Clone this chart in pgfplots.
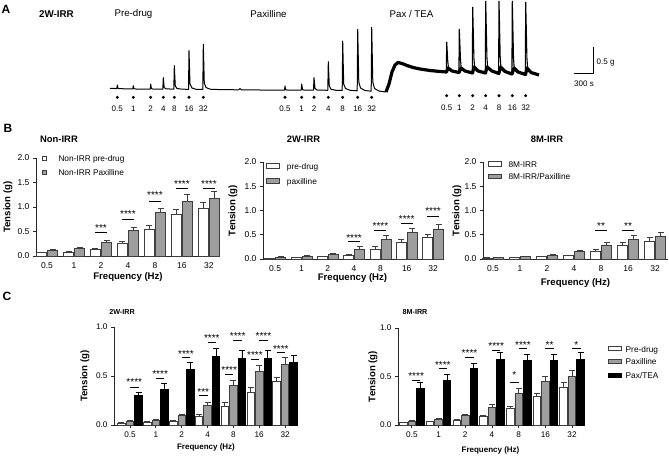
\documentclass[border=0pt]{standalone}
\usepackage{fontspec}
\setmainfont{Liberation Sans}
\usepackage{pgfplots}
\usepackage{pgfplotstable}
\pgfplotsset{compat=1.18}

\definecolor{barGrey}{HTML}{9E9E9E}
\definecolor{edge}{HTML}{3E3E3E}

\newcommand{\fLab}{\bfseries\fontsize{9.6}{11}\selectfont}
\newcommand{\fLabS}{\bfseries\fontsize{8}{10}\selectfont}
\newcommand{\fTick}{\fontsize{8.5}{10}\selectfont}
\newcommand{\fTickS}{\fontsize{8.2}{10}\selectfont}
\newcommand{\fLeg}{\fontsize{8.3}{10}\selectfont}
\newcommand{\fStar}{\fontsize{10}{10}\selectfont}

% ---------------- data ----------------
\pgfplotstableread{
x pre preE pax paxE
0 0.07 0.01 0.12 0.02
1 0.08 0.01 0.16 0.02
2 0.14 0.02 0.27 0.05
3 0.26 0.04 0.53 0.06
4 0.55 0.07 0.88 0.10
5 0.84 0.11 1.12 0.13
6 0.98 0.12 1.18 0.14
}\Bone
\pgfplotstableread{
x pre preE pax paxE
0 0.014 0.005 0.04 0.01
1 0.027 0.005 0.06 0.01
2 0.05 0.01 0.10 0.01
3 0.08 0.02 0.20 0.05
4 0.20 0.05 0.41 0.07
5 0.34 0.07 0.54 0.09
6 0.44 0.07 0.62 0.09
}\Btwo
\pgfplotstableread{
x pre preE pax paxE
0 0.02 0.005 0.03 0.01
1 0.03 0.005 0.05 0.01
2 0.045 0.01 0.08 0.01
3 0.07 0.01 0.16 0.02
4 0.16 0.04 0.29 0.06
5 0.29 0.05 0.40 0.08
6 0.37 0.07 0.46 0.08
}\Bthree
\pgfplotstableread{
x pre preE pax paxE tea teaE
0 0.017 0.005 0.034 0.01 0.30 0.03
1 0.027 0.005 0.05 0.01 0.36 0.06
2 0.04 0.01 0.096 0.015 0.57 0.07
3 0.085 0.02 0.20 0.03 0.70 0.08
4 0.19 0.04 0.40 0.06 0.68 0.08
5 0.335 0.05 0.546 0.065 0.68 0.08
6 0.44 0.05 0.62 0.07 0.64 0.07
}\Cone
\pgfplotstableread{
x pre preE pax paxE tea teaE
0 0.025 0.005 0.038 0.008 0.373 0.067
1 0.035 0.005 0.058 0.008 0.46 0.06
2 0.046 0.008 0.096 0.015 0.58 0.06
3 0.085 0.01 0.185 0.025 0.675 0.075
4 0.168 0.022 0.33 0.05 0.665 0.065
5 0.295 0.035 0.445 0.055 0.665 0.065
6 0.39 0.05 0.50 0.065 0.68 0.07
}\Ctwo

\pgfplotsset{
  base/.style={
    scale only axis, axis lines=left,
    axis line style={-, line width=0.8pt, draw=black!85},
    ymin=0, xtick={0,...,6}, xticklabels={0.5,1,2,4,8,16,32},
    tick align=outside, major tick length=3pt,
    tick style={line width=0.8pt, black!85},
    /pgf/number format/assume math mode=true,
    yticklabel style={/pgf/number format/fixed, /pgf/number format/fixed zerofill, /pgf/number format/precision=1},
    xlabel={Frequency (Hz)}, ylabel={Tension (g)}, clip=false,
  },
  Bpanel/.style={base, ymax=2, ytick={0,0.5,...,2}, xtick style={draw=none},
    tick label style={font=\fTick}, xlabel style={font=\fLab}, ylabel style={font=\fLab}},
  Cpanel/.style={base, ymax=1, ytick={0,0.5,1},
    tick label style={font=\fTickS}, xlabel style={font=\fLabS}, ylabel style={font=\fLab}},
  errs/.style={error bars/y dir=plus, error bars/y explicit,
    error bars/error bar style={line width=0.8pt, draw=#1},
    error bars/error mark options={rotate=90, line width=0.8pt, mark size=3pt, draw=#1}},
  wbar/.style={ybar, bar shift=0pt, draw=edge, fill=white, line width=0.8pt, errs=edge},
  gbar/.style={ybar, bar shift=0pt, draw=edge, fill=barGrey, line width=0.8pt, errs=edge},
  kbar/.style={ybar, bar shift=0pt, draw=black, fill=black, line width=0.8pt, errs=black},
}

\newcommand{\sigB}[4]{%
  \draw[line width=0.7pt] ([xshift=-6pt]axis cs:#1,#2) -- ([xshift=6pt]axis cs:#1,#2);
  \node[font=\fStar, inner sep=0pt, yshift=-2pt] at (axis cs:#1,#3) {#4};}
\newcommand{\sigWG}[4]{%
  \draw[line width=0.7pt] ([xshift=-8.5pt]axis cs:#1,#2) -- ([xshift=0pt]axis cs:#1,#2);
  \node[font=\fStar, inner sep=0pt, yshift=-2pt, xshift=-4.25pt] at (axis cs:#1,#3) {#4};}
\newcommand{\sigGB}[4]{%
  \draw[line width=0.7pt] ([xshift=0pt]axis cs:#1,#2) -- ([xshift=8.5pt]axis cs:#1,#2);
  \node[font=\fStar, inner sep=0pt, yshift=-2pt, xshift=4.25pt] at (axis cs:#1,#3) {#4};}

\begin{document}
\begin{tikzpicture}
\useasboundingbox (0,0) rectangle (669pt,456pt);

% ---------------- Panel A: tension trace ----------------
\begin{axis}[at={(0pt,0pt)}, anchor=south west, scale only axis,
  width=669pt, height=456pt, xmin=0, xmax=669, ymin=0, ymax=456,
  y dir=reverse, hide axis, clip=false]
\addplot[black, line width=1pt, line join=round] coordinates {
(110,88.3) (116.8,88.6) (117.3,85) (118,88.4) (120,88.7) (132.8,88.9) (133.3,85.7) (134,88.7) (136,89)
(150.2,89.1) (150.7,84) (151.4,88.6) (153,89.1) (162.8,89.2) (163.3,77.7) (164.2,87.5) (166,88.8)
(173.8,89.2) (174.3,65.7) (175.3,86) (177,88.5) (182,89.2) (188.5,89.3) (189,50.7) (190,84) (192,88) (196,89.3)
(202.8,89.5) (203.3,44.3) (204.3,83) (206,87.5) (210,89.2) (220,89.6) (238.5,89.8) (240,88.6) (241.5,89.8)
(260,90) (284.5,90) (285,86) (285.7,89.8) (287,90) (301.2,90.1) (301.7,84) (302.5,89.5) (304,90.1)
(313.5,90.2) (314,77.7) (315,88.5) (317,90) (327.8,90.3) (328.3,61.7) (329.3,86) (331,89.3) (336,90.3)
(342.2,90.5) (342.7,41) (343.7,84) (345.5,88.5) (350,90.3) (357.2,90.8) (357.7,29.3) (358.8,82) (360.5,88)
(365,90.5) (371.2,91.2) (371.7,27.3) (372.8,82) (374.5,88.5) (379,91) (386,92)};
\addplot[black, line width=3.2pt, line join=round] coordinates {
(386,92) (389,84) (392,72) (395,65) (398,62.5) (402,63.5) (407,65.5) (413,67.5) (420,69) (430,70.5)
(440,71.5) (446.5,72) (448,68) (452,71) (459,72.5) (461,68) (465,71) (472.5,73) (474,67) (478,71)
(485.5,73) (487,67) (492,71) (498.8,73.5) (500.5,67) (505,71.5) (512,74) (514,68) (518,72)
(525.5,74.5) (527,68) (531,72.5) (539,75)};
\addplot[black, line width=1.1pt] coordinates {(446.3,72)(446.7,42)(447.8,62)(448.5,68)};
\addplot[black, line width=1.1pt] coordinates {(458.9,72.5)(459.3,29)(460.5,60)(461.2,68)};
\addplot[black, line width=1.1pt] coordinates {(472.3,73)(472.7,7)(473.9,58)(474.6,67)};
\addplot[black, line width=1.1pt] coordinates {(485.3,73)(485.7,1)(486.9,57)(487.6,67)};
\addplot[black, line width=1.1pt] coordinates {(498.6,73.5)(499,1)(500.2,57)(500.9,67)};
\addplot[black, line width=1.1pt] coordinates {(511.9,74)(512.3,1)(513.5,58)(514.2,68)};
\addplot[black, line width=1.1pt] coordinates {(525.3,74.5)(525.7,2)(526.9,58)(527.6,68)};
% stimulation dots
\addplot[only marks, mark=*, mark size=1.3pt, black] coordinates {
(117.3,97.3)(133.3,97.3)(150.7,97.3)(163.3,97.3)(174.3,97.3)(189,97.3)(203.3,97.3)
(285,97.3)(301.7,97.3)(314,97.3)(328.3,97.3)(342.7,97.3)(357.7,97.3)(371.7,97.3)
(446.7,95.7)(459.3,95.7)(472.7,95.7)(485.7,95.7)(499,95.7)(512.3,95.7)(525.7,95.7)};
% scale bar
\addplot[black, line width=0.7pt] coordinates {(574,73.3)(593.3,73.3)(593.3,47.3)};
\end{axis}

% ---------------- Panel B ----------------
\begin{axis}[Bpanel, at={(36pt,200pt)}, anchor=south west, width=184pt, height=98pt,
  xmin=-0.41, xmax=6.41,
  ylabel style={at={(axis description cs:-0.152,0.5)}, anchor=center},
  xlabel style={at={(axis description cs:0.5,-0.219)}, anchor=center}]
\addplot[wbar, bar width=10pt] table[x expr=\thisrow{x}-0.205, y=pre, y error=preE] {\Bone};
\addplot[gbar, bar width=10pt] table[x expr=\thisrow{x}+0.205, y=pax, y error=paxE] {\Bone};
\sigB{2}{0.48}{0.62}{***}
\sigB{3}{0.74}{0.89}{****}
\sigB{4}{1.12}{1.29}{****}
\sigB{5}{1.38}{1.51}{****}
\sigB{6}{1.38}{1.51}{****}
\end{axis}

\begin{axis}[Bpanel, at={(263pt,197pt)}, anchor=south west, width=179pt, height=97pt,
  xmin=-0.46, xmax=6.34,
  ylabel style={at={(axis description cs:-0.168,0.5)}, anchor=center},
  xlabel style={at={(axis description cs:0.5,-0.191)}, anchor=center}]
\addplot[wbar, bar width=10pt] table[x expr=\thisrow{x}-0.209, y=pre, y error=preE] {\Btwo};
\addplot[gbar, bar width=10pt] table[x expr=\thisrow{x}+0.209, y=pax, y error=paxE] {\Btwo};
\sigB{3}{0.36}{0.48}{****}
\sigB{4}{0.60}{0.73}{****}
\sigB{5}{0.73}{0.87}{****}
\sigB{6}{0.88}{1.02}{****}
\end{axis}

\begin{axis}[Bpanel, at={(483pt,197pt)}, anchor=south west, width=185pt, height=97pt,
  xmin=-0.37, xmax=6.48,
  ylabel style={at={(axis description cs:-0.141,0.5)}, anchor=center},
  xlabel style={at={(axis description cs:0.5,-0.247)}, anchor=center}]
\addplot[wbar, bar width=10pt] table[x expr=\thisrow{x}-0.204, y=pre, y error=preE] {\Bthree};
\addplot[gbar, bar width=10pt] table[x expr=\thisrow{x}+0.204, y=pax, y error=paxE] {\Bthree};
\sigB{4}{0.60}{0.73}{**}
\sigB{5}{0.60}{0.73}{**}
\end{axis}

% ---------------- Panel C ----------------
\begin{axis}[Cpanel, at={(114pt,31pt)}, anchor=south west, width=184pt, height=98pt,
  xmin=-0.62, xmax=6.5,
  ylabel style={at={(axis description cs:-0.158,0.5)}, anchor=center},
  xlabel style={at={(axis description cs:0.5,-0.224)}, anchor=center}]
\addplot[wbar, bar width=7.5pt] table[x expr=\thisrow{x}-0.33, y=pre, y error=preE] {\Cone};
\addplot[gbar, bar width=7.5pt] table[x=x, y=pax, y error=paxE] {\Cone};
\addplot[kbar, bar width=7.5pt] table[x expr=\thisrow{x}+0.33, y=tea, y error=teaE] {\Cone};
\sigGB{0}{0.387}{0.455}{****}
\sigGB{1}{0.478}{0.54}{****}
\sigGB{2}{0.687}{0.747}{****}
\sigWG{3}{0.30}{0.36}{***}
\sigGB{3}{0.842}{0.906}{****}
\sigWG{4}{0.52}{0.58}{****}
\sigGB{4}{0.859}{0.926}{****}
\sigWG{5}{0.67}{0.73}{****}
\sigGB{5}{0.859}{0.926}{****}
\sigWG{6}{0.737}{0.80}{****}
\end{axis}

\begin{axis}[Cpanel, at={(398pt,31pt)}, anchor=south west, width=185pt, height=97pt,
  xmin=-0.52, xmax=6.41,
  ylabel style={at={(axis description cs:-0.135,0.5)}, anchor=center},
  xlabel style={at={(axis description cs:0.5,-0.258)}, anchor=center}]
\addplot[wbar, bar width=7.5pt] table[x expr=\thisrow{x}-0.318, y=pre, y error=preE] {\Ctwo};
\addplot[gbar, bar width=7.5pt] table[x=x, y=pax, y error=paxE] {\Ctwo};
\addplot[kbar, bar width=7.5pt] table[x expr=\thisrow{x}+0.318, y=tea, y error=teaE] {\Ctwo};
\sigGB{0}{0.465}{0.53}{****}
\sigGB{1}{0.58}{0.64}{****}
\sigGB{2}{0.70}{0.76}{****}
\sigGB{3}{0.77}{0.836}{****}
\sigWG{4}{0.44}{0.54}{*}
\sigGB{4}{0.79}{0.846}{****}
\sigGB{5}{0.79}{0.846}{**}
\sigGB{6}{0.79}{0.846}{*}
\end{axis}

% ---------------- text, legends (pixel frame, y downwards) ----------------
\begin{scope}[x=1pt, y=-1pt, yshift=456pt]
\tikzset{lbl/.style={inner sep=0pt, anchor=west, text height=1.5ex, text depth=0.25ex}}
\node[font=\bfseries\fontsize{12}{12}\selectfont, inner sep=0pt] at (6,9) {A};
\node[font=\bfseries\fontsize{12}{12}\selectfont, inner sep=0pt] at (8,128) {B};
\node[font=\bfseries\fontsize{12}{12}\selectfont, inner sep=0pt] at (7,296) {C};
\node[font=\bfseries\fontsize{9.8}{11}\selectfont, inner sep=0pt] at (56.5,14) {2W-IRR};
\node[font=\fontsize{9.7}{11}\selectfont, inner sep=0pt] at (133.5,14) {Pre-drug};
\node[font=\fontsize{9.7}{11}\selectfont, inner sep=0pt] at (268.5,14) {Paxilline};
\node[font=\fontsize{9.7}{11}\selectfont, inner sep=0pt] at (411.5,14) {Pax / TEA};
\foreach \x/\l in {117.3/0.5,133.3/1,150.7/2,163.3/4,174.3/8,189/16,203.3/32,
                   285/0.5,301.7/1,314/2,328.3/4,342.7/8,357.7/16,371.7/32}
  \node[font=\fontsize{8}{9}\selectfont, inner sep=0pt] at (\x,109) {\l};
\foreach \x/\l in {446.7/0.5,459.3/1,472.7/2,485.7/4,499/8,512.3/16,525.7/32}
  \node[font=\fontsize{8}{9}\selectfont, inner sep=0pt] at (\x,107.3) {\l};
\node[font=\fontsize{8}{9}\selectfont, lbl] at (596.5,60.7) {0.5 g};
\node[font=\fontsize{8}{9}\selectfont, lbl] at (574,83.3) {300 s};
\node[font=\bfseries\fontsize{9.4}{11}\selectfont, inner sep=0pt] at (59,139) {Non-IRR};
\node[font=\bfseries\fontsize{9.4}{11}\selectfont, inner sep=0pt] at (303.5,139.3) {2W-IRR};
\node[font=\bfseries\fontsize{9.4}{11}\selectfont, inner sep=0pt] at (547,139.3) {8M-IRR};
\node[font=\bfseries\fontsize{7.2}{9}\selectfont, inner sep=0pt] at (122,311.7) {2W-IRR};
\node[font=\bfseries\fontsize{7.2}{9}\selectfont, inner sep=0pt] at (415,311.7) {8M-IRR};
\draw[edge, fill=white, line width=0.6pt] (42.5,156.3) rectangle (46.5,160.3);
\draw[edge, fill=barGrey, line width=0.6pt] (42.5,170.3) rectangle (46.5,174.3);
\node[font=\fLeg, lbl] at (58.3,158.3) {Non-IRR pre-drug};
\node[font=\fLeg, lbl] at (58.3,172.3) {Non-IRR Paxilline};
\draw[edge, fill=white, line width=0.8pt] (266.7,163.3) rectangle (279.3,168.7);
\draw[edge, fill=barGrey, line width=0.8pt] (266.7,178.3) rectangle (279.3,183.7);
\node[font=\fLeg, lbl] at (286.7,166) {pre-drug};
\node[font=\fLeg, lbl] at (286.7,181) {paxilline};
\draw[edge, fill=white, line width=0.8pt] (488,161.7) rectangle (501.7,166.3);
\draw[edge, fill=barGrey, line width=0.8pt] (488,174.3) rectangle (501.7,178.7);
\node[font=\fLeg, lbl] at (508.3,164) {8M-IRR};
\node[font=\fLeg, lbl] at (508.3,176.5) {8M-IRR/Paxilline};
\draw[edge, fill=white, line width=0.8pt] (608.3,346.7) rectangle (621.7,350.7);
\draw[edge, fill=barGrey, line width=0.8pt] (608.3,359) rectangle (621.7,363.3);
\draw[black, fill=black, line width=0.8pt] (608.3,373.3) rectangle (621.7,377.3);
\node[font=\fLeg, lbl] at (625.5,348.7) {Pre-drug};
\node[font=\fLeg, lbl] at (625.5,361.2) {Paxilline};
\node[font=\fLeg, lbl] at (625.5,375.3) {Pax/TEA};
\end{scope}
\end{tikzpicture}
\end{document}
